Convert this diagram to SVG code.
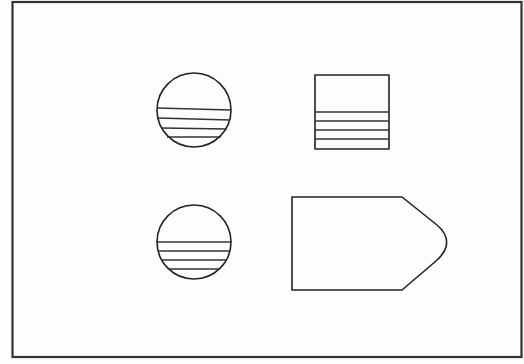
<svg xmlns="http://www.w3.org/2000/svg" width="524" height="364" viewBox="0 0 524 364">
<style>
.s{fill:none;stroke:#222;stroke-width:1.6;stroke-linejoin:round}
.h{stroke:#333;stroke-width:1.3}
</style>
<rect width="524" height="364" fill="#fdfdfb"/>
<rect x="12.5" y="2" width="509" height="355" fill="none" stroke="#333" stroke-width="2.2"/>
<g id="circle-top">
<circle class="s" cx="194" cy="110" r="37"/>
<line class="h" x1="157.5" y1="108" x2="230.5" y2="110"/>
<line class="h" x1="158" y1="118" x2="230" y2="120"/>
<line class="h" x1="161" y1="128" x2="227" y2="129"/>
<line class="h" x1="167" y1="137" x2="221" y2="137"/>
</g>
<g id="square">
<rect class="s" x="315" y="75" width="74" height="74"/>
<line class="h" x1="315" y1="112" x2="389" y2="112"/>
<line class="h" x1="315" y1="121" x2="389" y2="121"/>
<line class="h" x1="315" y1="130" x2="389" y2="130"/>
<line class="h" x1="315" y1="139" x2="389" y2="139"/>
</g>
<g id="circle-bottom">
<circle class="s" cx="194" cy="242" r="37"/>
<line class="h" x1="157" y1="242" x2="231" y2="242"/>
<line class="h" x1="158.5" y1="251" x2="229.5" y2="251"/>
<line class="h" x1="162" y1="260" x2="226" y2="260"/>
<line class="h" x1="168" y1="269" x2="220" y2="269"/>
</g>
<g id="pentagon">
<path class="s" d="M292 197 L402 197 L437 225 Q449 235 446 247 Q444 254 436 261 L402 290 L292 290 Z"/>
</g>
<g id="connectors"></g>
</svg>
